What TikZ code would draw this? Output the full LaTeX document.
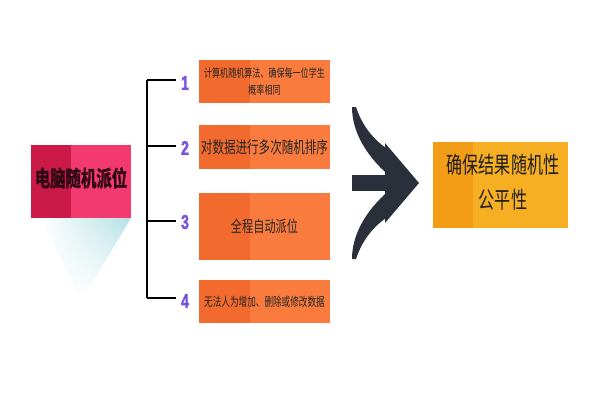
\documentclass[tikz,border=0pt]{standalone}
\usepackage{fontspec}
\newfontfamily\cjk[FakeStretch=0.7]{Noto Sans CJK SC}
\newfontfamily\cjkh[FakeStretch=0.7,FakeBold=1.5]{Noto Sans CJK SC Bold}
\newfontfamily\numf[FakeStretch=0.7,FakeBold=2]{Liberation Sans Bold}
\usetikzlibrary{fadings,calc}
\definecolor{pinkL}{HTML}{CC1A48}
\definecolor{pinkR}{HTML}{F23A70}
\definecolor{orL}{HTML}{F26A2E}
\definecolor{orR}{HTML}{F97B3E}
\definecolor{goldL}{HTML}{F39C16}
\definecolor{goldR}{HTML}{F6AE22}
\definecolor{purp}{HTML}{7B55DC}
\definecolor{arrowc}{HTML}{2B2F3A}
\definecolor{shad}{HTML}{B2E0E4}
\tikzset{
  obox/.style={minimum width=131pt, inner sep=0pt, fill=orR, text=black!85,
    align=center, font=\cjk,
    path picture={\fill[orL] (path picture bounding box.south west) rectangle ([xshift=51pt]path picture bounding box.north west);}},
  num/.style={text=purp, font=\numf\fontsize{20}{20}\selectfont, inner sep=0pt},
  brk/.style={line width=1.8pt, black}
}
\begin{document}
\begin{tikzpicture}[x=1pt,y=-1pt]
\useasboundingbox (0,0) rectangle (600,400);
% shadow
\shade[left color=white, right color=shad, path fading=south] (40,218) -- (131,218) -- (82,300) -- cycle;
% left box
\node[minimum width=100pt, minimum height=73pt, inner sep=0pt, fill=pinkR,
  path picture={\fill[pinkL] (path picture bounding box.south west) rectangle ([xshift=40pt]path picture bounding box.north west);}]
  (src) at (81,181.5) {};
\node[font=\cjkh\fontsize{22}{22}\selectfont, text={rgb,255:red,45;green,8;blue,20}, inner sep=0pt] (srct) at (81,178) {电脑随机派位};
% bracket
\coordinate (top) at (147,80);
\coordinate (bot) at (147,298);
\coordinate (j2) at (147,146);
\coordinate (j3) at (147,221);
\draw[brk] (top) -- (bot);
\coordinate (e1) at (176,80);
\coordinate (e2) at (176,146);
\coordinate (e3) at (176,221);
\coordinate (e4) at (176,298);
\draw[brk] (top) -- (e1);
\draw[brk] (j2) -- (e2);
\draw[brk] (j3) -- (e3);
\draw[brk] (bot) -- (e4);
% numbers
\node[num] (n1) at (185,83) {1};
\node[num] (n2) at (185,148) {2};
\node[num] (n3) at (185,222) {3};
\node[num] (n4) at (185,301) {4};
% orange boxes
\node[obox, minimum height=43pt] (b1) at (264.5,81.5) {};
\node[font=\cjk\fontsize{11.5}{17}\selectfont, text=black!85, align=center, inner sep=0pt] (b1t) at (264.5,82) {计算机随机算法、确保每一位学生\\概率相同};
\node[obox, minimum height=44pt, font=\cjk\fontsize{16.5}{17}\selectfont] (b2) at (264.5,147) {对数据进行多次随机排序};
\node[obox, minimum height=67pt, font=\cjk\fontsize{16}{17}\selectfont] (b3) at (264.5,226.5) {全程自动派位};
\node[obox, minimum height=43pt, font=\cjk\fontsize{12.3}{17}\selectfont] (b4) at (264.5,301.5) {无法人为增加、删除或修改数据};
% big arrow
\fill[arrowc] (352,107) .. controls (352,135) and (370,160) .. (392,178) -- (395,160) -- (386,148) .. controls (372,138) and (362,125) .. (356,107) -- cycle;
\fill[arrowc] (352,259) .. controls (352,231) and (370,206) .. (392,188) -- (395,206) -- (386,218) .. controls (372,228) and (362,241) .. (356,259) -- cycle;
\fill[arrowc] (352,175) rectangle (388,191);
\fill[arrowc] (385,143) -- (419,183) -- (385,223) -- cycle;
% result box
\node[minimum width=135pt, minimum height=86pt, inner sep=0pt, fill=goldR,
  path picture={\fill[goldL] (path picture bounding box.south west) rectangle ([xshift=40pt]path picture bounding box.north west);}]
  (res) at (500.5,185) {};
\node[font=\cjk\fontsize{23}{35}\selectfont, text=black!88, align=center, inner sep=0pt] (rest) at (503,182) {确保结果随机性\\公平性};
\end{tikzpicture}
\end{document}
